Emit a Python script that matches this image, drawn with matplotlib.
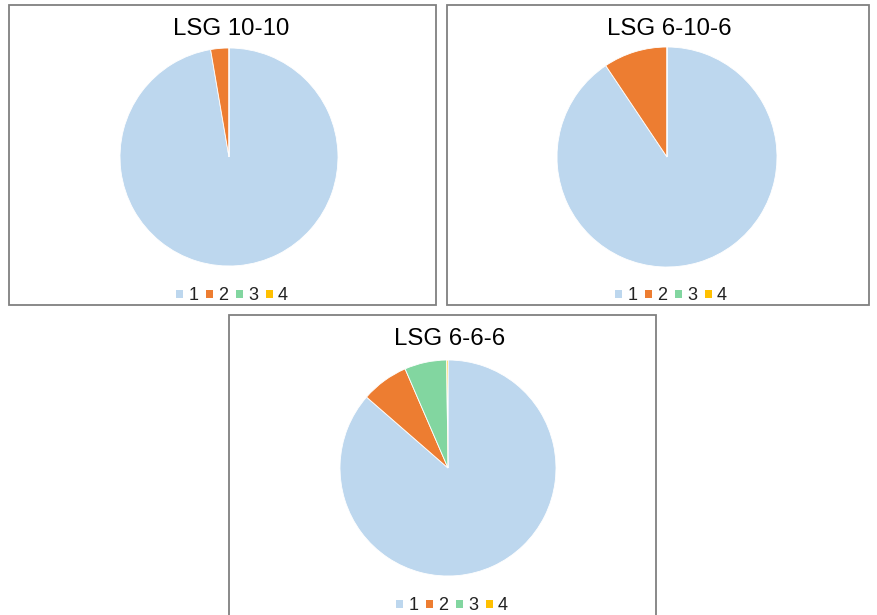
import matplotlib.pyplot as plt
from matplotlib.patches import Rectangle, Patch

plt.rcParams['font.family'] = ['Liberation Sans', 'DejaVu Sans']

W, H = 877, 615

labels = ['1', '2', '3', '4']
colors = ['#BDD7EE', '#ED7D31', '#82D6A0', '#FFC000']

titles = ['LSG 10-10', 'LSG 6-10-6', 'LSG 6-6-6']
lsg_10_10 = [97.3, 2.7, 0.0, 0.0]
lsg_6_10_6 = [90.6, 9.4, 0.0, 0.0]
lsg_6_6_6 = [86.4, 7.1, 6.3, 0.2]
series = [lsg_10_10, lsg_6_10_6, lsg_6_6_6]

# panel boxes in pixels: (left, top, right, bottom), pie centre, radius, title y, legend (x, y)
panels = [
    ((9, 5, 436, 305), (229, 157), 109, 29, (232, 296)),
    ((447, 5, 869, 305), (667, 157), 110, 29, (671, 296)),
    ((229, 315, 656, 640), (448, 468), 108, 339, (452, 606)),
]

fig = plt.figure(figsize=(W / 100, H / 100), dpi=100)


def fx(x):
    return x / W


def fy(y):
    return 1 - y / H


for vals, title, (box, (cx, cy), r, ty, (lx, ly)) in zip(series, titles, panels):
    l, t, rr, b = box
    fig.patches.append(Rectangle((fx(l), fy(b)), fx(rr - l), (b - t) / H,
                                 transform=fig.transFigure, fill=False,
                                 edgecolor='#808080', linewidth=1.3))
    ax = fig.add_axes([fx(cx - r), fy(cy + r), fx(2 * r), 2 * r / H])
    ax.pie(vals, colors=colors, startangle=90, counterclock=False, radius=1,
           wedgeprops=dict(edgecolor='white', linewidth=0.6))
    ax.set_xlim(-1, 1)
    ax.set_ylim(-1, 1)
    ax.set_aspect('auto')
    ax.axis('off')
    fig.text(fx(cx + 2), fy(ty), title, ha='center', va='center',
             fontsize=17.3, color='black')
    handles = [Patch(facecolor=c, edgecolor='none') for c in colors]
    fig.legend(handles, labels, loc='center', ncol=4,
               bbox_to_anchor=(fx(lx), fy(ly)),
               frameon=False, fontsize=13, handlelength=0.38, handleheight=0.38,
               handletextpad=0.3, columnspacing=0.42, labelcolor='#222222')

fig.savefig('out.png', dpi=100)
